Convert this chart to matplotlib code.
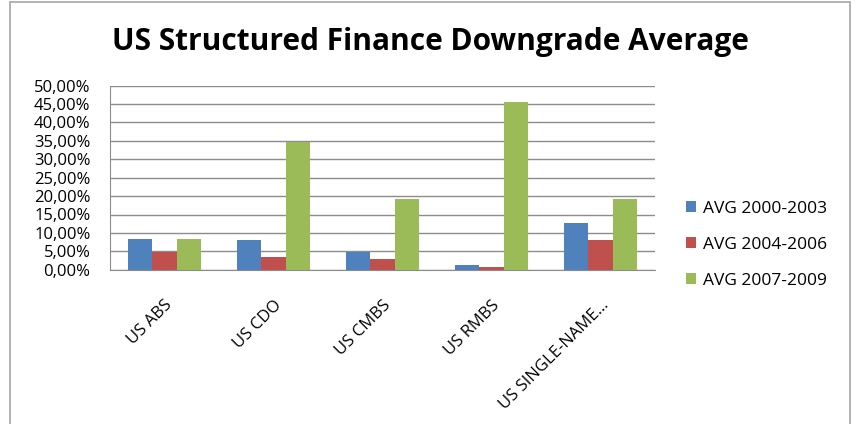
import numpy as np
import matplotlib.pyplot as plt
from matplotlib.patches import Rectangle
from matplotlib.ticker import FuncFormatter

categories = ['US ABS', 'US CDO', 'US CMBS', 'US RMBS', 'US SINGLE-NAME...']
series = ['AVG 2000-2003', 'AVG 2004-2006', 'AVG 2007-2009']
avg_2000_2003 = [8.3, 8.1, 4.8, 1.2, 12.8]
avg_2004_2006 = [4.9, 3.5, 3.0, 0.7, 8.0]
avg_2007_2009 = [8.3, 34.8, 19.2, 45.5, 19.2]
colors = ['#4f81bd', '#c0504d', '#9bbb59']

plt.rcParams['font.family'] = ['Open Sans', 'DejaVu Sans']

fig = plt.figure(figsize=(8.61, 4.24), dpi=100)
fig.patches.append(Rectangle((10/861, -0.1), 840/861, 1.1 - 2/424, transform=fig.transFigure,
                             fill=False, edgecolor='#a6a6a6', linewidth=1.2))

ax = fig.add_axes([110/861, 1 - 269.7/424, 545/861, 184/424])
x = np.arange(len(categories))
w = 1 / 4.5
for i, vals in enumerate([avg_2000_2003, avg_2004_2006, avg_2007_2009]):
    ax.bar(x + (i - 1) * w, vals, w, color=colors[i], label=series[i], zorder=3)

ax.set_xlim(-0.5, len(categories) - 0.5)
ax.set_ylim(0, 50)
ax.set_yticks(np.arange(0, 51, 5))
ax.yaxis.set_major_formatter(FuncFormatter(lambda v, p: ('%.2f%%' % v).replace('.', ',')))
ax.grid(axis='y', color='#8c8c8c', linewidth=1)
ax.set_xticks(x)
ax.set_xticklabels(categories, rotation=45, ha='right', rotation_mode='anchor')
ax.tick_params(axis='both', length=0, labelsize=12)
ax.tick_params(axis='y', pad=14)
ax.tick_params(axis='x', pad=20)
for s in ['top', 'right']:
    ax.spines[s].set_visible(False)
for s in ['left', 'bottom']:
    ax.spines[s].set_color('#8c8c8c')

fig.text(430/861, 1 - 42/424, 'US Structured Finance Downgrade Average', ha='center', va='center',
         fontsize=21.5, fontweight='bold')
fig.legend(loc='center left', bbox_to_anchor=(670/861, 1 - 245/424), frameon=False,
           fontsize=12.5, handlelength=0.6, handleheight=0.6, labelspacing=1.15, handletextpad=0.4)

plt.savefig('out.png', dpi=100)
